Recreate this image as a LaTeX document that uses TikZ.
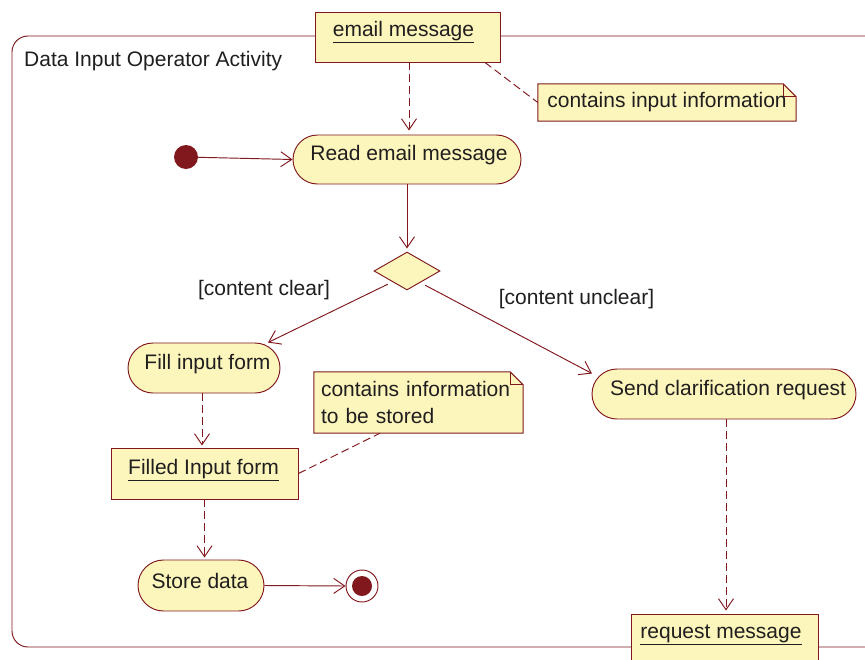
\documentclass[tikz,border=0pt]{standalone}
\usepackage{fontspec}
\setmainfont{Liberation Sans}
\usetikzlibrary{arrows.meta,shapes.misc,shapes.geometric}
\definecolor{umlred}{RGB}{128,24,30}
\definecolor{umlfill}{RGB}{252,246,188}
\definecolor{umltext}{RGB}{32,30,30}
\pgfdeclarelayer{bg}
\pgfsetlayers{bg,main}
\newcommand\umlfont{\fontsize{21}{26.7}\selectfont}
\tikzset{
  base/.style={draw=umlred, fill=umlfill, line width=0.95pt, inner sep=0pt},
  action/.style={base, rounded rectangle},
  objbox/.style={base, rectangle},
  decision/.style={base, diamond},
  startnode/.style={circle, fill=umlred, minimum size=24pt, inner sep=0pt},
  endnode/.style={circle, draw=umlred, fill=white, line width=0.95pt, minimum size=32pt, inner sep=0pt},
  notebox/.style={inner sep=0pt, inner xsep=7pt, text=umltext, font=\umlfont},
  notedraw/.style={draw=umlred, fill=umlfill, line width=0.95pt},
  txt/.style={text=umltext, font=\umlfont, inner sep=0pt},
  every label/.style={txt},
  flow/.style={draw=umlred, line width=0.95pt, -{Straight Barb[length=11pt,width=15pt,line width=0.95pt]}},
  objflow/.style={flow, dash pattern=on 8pt off 4pt},
  anchorline/.style={draw=umlred, line width=0.95pt, dash pattern=on 8pt off 4pt},
}
\newcommand\drawnote[1]{%
  \filldraw[notedraw] (#1.south west) -- (#1.north west) -- ([xshift=-13pt]#1.north east)
     -- ([yshift=-13pt]#1.north east) -- (#1.south east) -- cycle;
  \draw[notedraw, fill=none, line width=0.7pt] ([xshift=-13pt]#1.north east) |- ([yshift=-13pt]#1.north east);}
\begin{document}
\begin{tikzpicture}[x=1pt,y=-1pt]
\useasboundingbox (0,0) rectangle (865,659);
\clip (0,0) rectangle (865,659);

% title
\node[txt, anchor=base west] (title) at (24,66) {Data Input Operator Activity};

% nodes
\node[objbox, minimum width=185, minimum height=50,
  label={[name=emailt, xshift=-4pt, yshift=5pt]center:\underline{email message}}] (email) at (407.5,37) {};
\node[notebox, minimum width=258, minimum height=37] (note1) at (667,102.5) {contains input information};
\node[startnode] (init) at (186,157) {};
\node[action, minimum width=228, minimum height=49,
  label={[name=readt, xshift=2pt, yshift=4pt]center:Read email message}] (read) at (407,159.5) {};
\node[decision, minimum width=66, minimum height=38] (dec) at (407,271) {};
\node[txt, anchor=base] (clear) at (264,295) {[content clear]};
\node[txt, anchor=base] (unclear) at (576.5,304) {[content unclear]};
\node[action, minimum width=152, minimum height=50,
  label={[name=fillt, xshift=3.5pt, yshift=4pt]center:Fill input form}] (fill) at (204,368) {};
\node[objbox, minimum width=187, minimum height=51,
  label={[name=filledt, xshift=-1pt, yshift=3.5pt]center:\underline{Filled Input form}}] (filled) at (204.5,473.5) {};
\node[notebox, text width=195pt, minimum height=61, align=left] (note2) at (418.5,402.5) {contains information\\to be stored};
\node[action, minimum width=126, minimum height=51,
  label={[name=storet, xshift=-1pt, yshift=4.7pt]center:Store data}] (store) at (201,585.5) {};
\node[endnode] (final) at (362,586) {};
\fill[umlred] (final) circle (10pt);
\node[action, minimum width=264, minimum height=50,
  label={[name=sendt, xshift=4pt, yshift=4.3pt]center:Send clarification request}] (send) at (724,394) {};
\node[objbox, minimum width=187, minimum height=50,
  label={[name=reqt, xshift=-3.5pt, yshift=4pt]center:\underline{request message}}] (req) at (724.5,639) {};

% background: frame and notes
\begin{pgfonlayer}{bg}
  \draw[umlred, line width=0.95pt, rounded corners=16pt] (12,647) rectangle (905,36);
  \drawnote{note1}
  \drawnote{note2}
\end{pgfonlayer}

% connectors
\draw[objflow] ([xshift=1.5pt]email.south) -- ([xshift=2pt,yshift=4pt]read.north);
\draw[anchorline] ([xshift=77.5pt]email.south) -- (note1.west);
\draw[flow] (init) -- (read.west);
\draw[flow] (read.south) -- ([yshift=3pt]dec.north);
\draw[flow] ([xshift=-2.5pt,yshift=-3.5pt]dec.south west) -- ([xshift=64pt]fill.north);
\draw[flow] ([xshift=1.5pt,yshift=-4.5pt]dec.south east) -- ([xshift=-132pt,yshift=-5pt]send.north);
\draw[objflow] ([xshift=-2pt]fill.south) -- ([xshift=-2.5pt,yshift=2pt]filled.north);
\draw[anchorline] (filled.east) -- ([xshift=-38.5pt]note2.south);
\draw[objflow] (filled.south) -- ([xshift=3.5pt,yshift=2pt]store.north);
\draw[flow] (store.east) -- (final.west);
\draw[objflow] ([xshift=2pt]send.south) -- ([xshift=1.5pt,yshift=3pt]req.north);
\end{tikzpicture}
\end{document}
